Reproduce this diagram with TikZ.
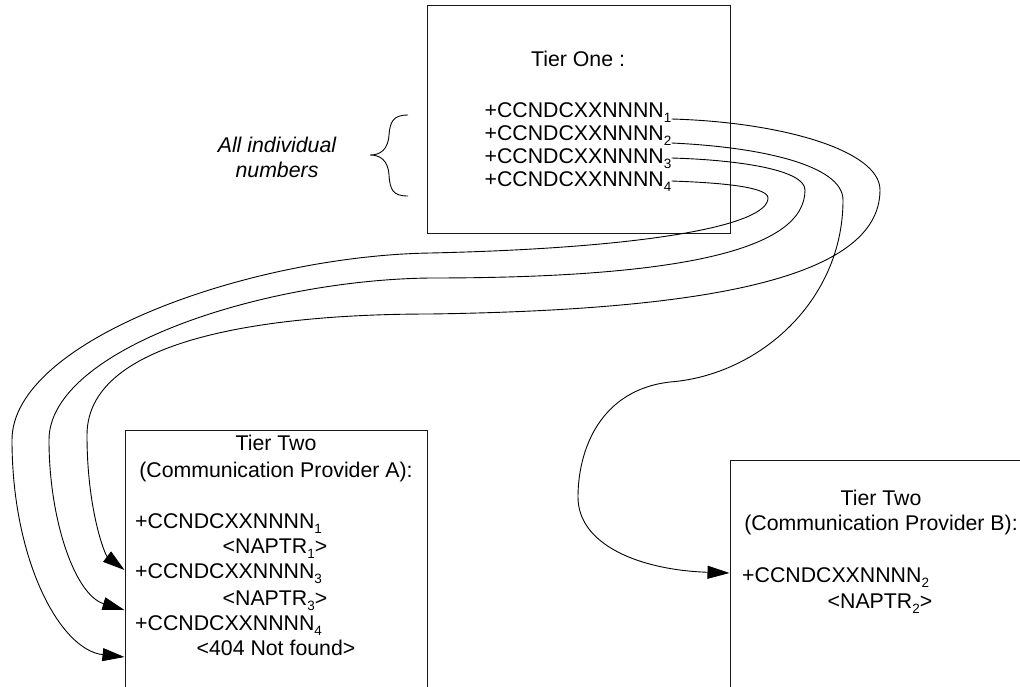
\documentclass[tikz,border=0pt]{standalone}
\usepackage{fontspec}
\setmainfont{Liberation Sans}
\usetikzlibrary{arrows.meta}
\newcommand{\lowsub}[1]{\raisebox{-5pt}{\fontsize{13.5}{14}\selectfont #1}}
\newcommand{\ccn}[1]{+CCNDCXXNNNN\lowsub{#1}}
\newcommand{\naptr}[1]{<NAPTR\lowsub{#1}>}
\begin{document}
\begin{tikzpicture}[x=1pt,y=-1pt,font=\fontsize{21.3}{25}\selectfont,
  tier/.style={draw=black!90,line width=1pt,rectangle,inner sep=0pt},
  txt/.style={inner sep=0pt,anchor=base},
  link/.style={line width=0.9pt,-{Triangle[length=22pt,width=13pt]}}]
\useasboundingbox (0,0) rectangle (1020,686);
\clip (0,0) rectangle (1020,686);
% the three tables
\node[tier,minimum width=303,minimum height=228] (tierone) at (578.5,119) {};
\node[tier,minimum width=302,minimum height=300] (tiera) at (276,580) {};
\node[tier,minimum width=302,minimum height=300] (tierb) at (881,610) {};
% tier one
\node[txt] (onetitle) at (578,66) {Tier One :};
\node[txt] (t1) at (578,117) {\ccn{1}};
\node[txt] (t2) at (578,140) {\ccn{2}};
\node[txt] (t3) at (578,163) {\ccn{3}};
\node[txt] (t4) at (578,186) {\ccn{4}};
\node[font=\fontsize{21.3}{25}\selectfont\itshape,align=center] (allnum) at (277,157) {All individual\\numbers};
\draw[line width=0.9pt] (408,115) .. controls (393,115) and (390,122) .. (389,135)
  .. controls (388,150) and (380,155) .. (370,155)
  .. controls (380,155) and (388,160) .. (389,175)
  .. controls (390,190) and (393,196) .. (408,196);
% tier two, provider A
\node[txt] (atitle) at (276,450) {Tier Two};
\node[txt] (asub) at (276,477) {(Communication Provider A):};
\node[txt,anchor=base west] (a1) at (135,528) {\ccn{1}};
\node[txt] (an1) at (275,553) {\naptr{1}};
\node[txt,anchor=base west] (a3) at (135,578) {\ccn{3}};
\node[txt] (an3) at (275,605) {\naptr{3}};
\node[txt,anchor=base west] (a4) at (135,630) {\ccn{4}};
\node[txt] (an4) at (276,655) {<404 Not found>};
% tier two, provider B
\node[txt] (btitle) at (881,505) {Tier Two};
\node[txt] (bsub) at (881,530) {(Communication Provider B):};
\node[txt,anchor=base west] (b2) at (742,582) {\ccn{2}};
\node[txt] (bn2) at (880,608) {\naptr{2}};
% ends of the links
\coordinate (s1) at ([yshift=-2pt]t1.base east);
\coordinate (s2) at ([yshift=-3pt]t2.base east);
\coordinate (s3) at ([yshift=5pt]t3.base east);
\coordinate (s4) at ([yshift=5pt]t4.base east);
\coordinate (in1) at (tiera.west |- 0,570);
\coordinate (in2) at (tiera.west |- 0,610);
\coordinate (in3) at (tiera.west |- 0,657);
\coordinate (in4) at (tierb.west |- 0,573);
% links
\draw[link] (s1) .. controls (780,122) and (880,150) .. (880,190)
  .. controls (880,280) and (700,310) .. (430,314)
  .. controls (300,314) and (87,330) .. (87,435)
  .. controls (87,510) and (105,555) .. (in1);
\draw[link] (s2) .. controls (760,147) and (843,165) .. (843,200)
  .. controls (843,300) and (760,375) .. (670,382)
  .. controls (600,390) and (578,450) .. (578,497)
  .. controls (578,545) and (640,570) .. (in4);
\draw[link] (s3) .. controls (740,160) and (805,170) .. (805,190)
  .. controls (805,250) and (680,278) .. (430,278)
  .. controls (260,280) and (49,350) .. (49,440)
  .. controls (49,520) and (75,595) .. (in2);
\draw[link] (s4) .. controls (730,183) and (768,188) .. (768,198)
  .. controls (768,225) and (650,248) .. (430,253)
  .. controls (250,256) and (12,340) .. (12,440)
  .. controls (12,560) and (60,650) .. (in3);
\end{tikzpicture}
\end{document}
